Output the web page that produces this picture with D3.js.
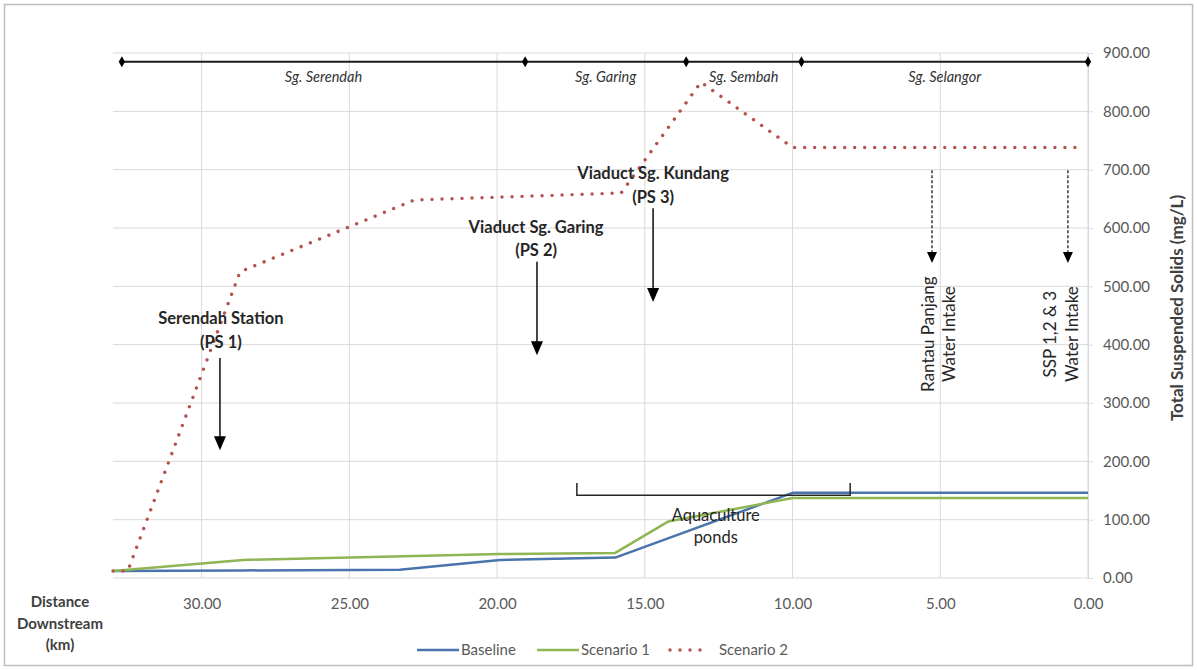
<!DOCTYPE html>
<html>
<head>
<meta charset="utf-8">
<script src="https://cdn.jsdelivr.net/npm/d3@7"></script>
<style>
  html, body { margin: 0; padding: 0; background: #ffffff; }
  svg { display: block; font-family: Lato, "Open Sans", sans-serif; }
</style>
</head>
<body>
<script>
// Distance downstream (km) tick values and TSS (mg/L) tick values
const distTicks = [30, 25, 20, 15, 10, 5, 0];
const tssTicks = [0, 100, 200, 300, 400, 500, 600, 700, 800, 900];

// Series: distance downstream (km) and total suspended solids (mg/L)
const baselineKm  = [33, 28.6, 23.3, 19.9, 16.0, 10.0, 0];
const baselineTss = [12, 13, 14, 31, 35, 146, 146];
const scenario1Km  = [33, 28.6, 19.9, 16.0, 14.2, 10.0, 0];
const scenario1Tss = [12, 31, 41, 43, 97, 137, 137];
const scenario2Km  = [33, 32.5, 28.7, 22.8, 15.8, 13.1, 10.0, 0.3];
const scenario2Tss = [12, 12, 525, 648, 660, 850, 738, 738];

// River reaches along the route (boundaries in km)
const reachKm = [32.7, 19.05, 13.6, 9.7, 0];
const reachNames = ["Sg. Serendah", "Sg. Garing", "Sg. Sembah", "Sg. Selangor"];
const reachTss = 885;

const seriesNames = ["Baseline", "Scenario 1", "Scenario 2"];

const W = 1197, H = 670;
const svg = d3.select("body").append("svg").attr("width", W).attr("height", H);

svg.append("rect").attr("x", 0).attr("y", 0).attr("width", W).attr("height", H).attr("fill", "#fff");
svg.append("rect").attr("x", 4.5).attr("y", 4.5).attr("width", 1188).attr("height", 661)
  .attr("fill", "none").attr("stroke", "#bdbdbd").attr("stroke-width", 1.5);

const x = d3.scaleLinear().domain([33, 0]).range([113, 1088]);
const y = d3.scaleLinear().domain([0, 900]).range([578, 53]);

// Gridlines
const grid = svg.append("g");
grid.selectAll("line.h").data(tssTicks).join("line")
  .attr("x1", x(33)).attr("x2", x(0))
  .attr("y1", d => y(d)).attr("y2", d => y(d))
  .attr("stroke", "#d9d9d9").attr("stroke-width", 1);
grid.selectAll("line.v").data(distTicks).join("line")
  .attr("x1", d => x(d)).attr("x2", d => x(d))
  .attr("y1", y(0)).attr("y2", y(900))
  .attr("stroke", "#d9d9d9").attr("stroke-width", 1);

// Right value axis
const yAxis = svg.append("g").attr("transform", `translate(${x(0)},0)`)
  .call(d3.axisRight(y).tickValues(tssTicks).tickFormat(d => d.toFixed(2)).tickSize(5).tickPadding(10));
yAxis.select(".domain").attr("stroke", "#d9d9d9");
yAxis.selectAll(".tick line").attr("stroke", "#d9d9d9");
yAxis.selectAll("text").attr("fill", "#595959").style("font-size", "15px").style("font-family", "Lato, sans-serif");

// Bottom distance axis
const xAxis = svg.append("g").attr("transform", `translate(0,${y(0)})`)
  .call(d3.axisBottom(x).tickValues(distTicks).tickFormat(d => d.toFixed(2)).tickSize(0).tickPadding(20));
xAxis.select(".domain").remove();
xAxis.selectAll("text").attr("fill", "#595959").style("font-size", "15px").style("font-family", "Lato, sans-serif");

// Axis titles
const xTitle = svg.append("text").attr("text-anchor", "middle")
  .attr("fill", "#404040").style("font-size", "15px").style("font-weight", "bold");
["Distance", "Downstream", "(km)"].forEach((t, i) => {
  xTitle.append("tspan").attr("x", 60).attr("y", 607 + i * 21.5).text(t);
});
svg.append("text").attr("transform", `translate(1183,308) rotate(-90)`)
  .attr("text-anchor", "middle").attr("fill", "#404040")
  .style("font-size", "17px").style("font-weight", "bold")
  .text("Total Suspended Solids (mg/L)");

// River reach bar
const reach = svg.append("g");
reach.append("line").attr("x1", x(reachKm[0])).attr("x2", x(reachKm[reachKm.length - 1]))
  .attr("y1", y(reachTss)).attr("y2", y(reachTss)).attr("stroke", "#1a1a1a").attr("stroke-width", 2);
reach.selectAll("path.dia").data(reachKm).join("path")
  .attr("d", d3.symbol(d3.symbolDiamond, 34))
  .attr("transform", d => `translate(${x(d)},${y(reachTss)})`).attr("fill", "#000");
reach.selectAll("text").data(reachNames).join("text")
  .attr("x", (d, i) => x((reachKm[i] + reachKm[i + 1]) / 2))
  .attr("y", y(reachTss) + 20)
  .attr("text-anchor", "middle").attr("fill", "#333333")
  .style("font-size", "14.5px").style("font-style", "italic")
  .text(d => d);

// Series lines
const line = d3.line().x(d => x(d[0])).y(d => y(d[1]));
const zip = (a, b) => a.map((v, i) => [v, b[i]]);

svg.append("path").datum(zip(baselineKm, baselineTss)).attr("d", line)
  .attr("fill", "none").attr("stroke", "#4a74ad").attr("stroke-width", 2.5).attr("stroke-linejoin", "round");
svg.append("path").datum(zip(scenario1Km, scenario1Tss)).attr("d", line)
  .attr("fill", "none").attr("stroke", "#8fb555").attr("stroke-width", 2.5).attr("stroke-linejoin", "round");
svg.append("path").datum(zip(scenario2Km, scenario2Tss)).attr("d", line)
  .attr("fill", "none").attr("stroke", "#b3524e").attr("stroke-width", 3.4)
  .attr("stroke-linecap", "round").attr("stroke-dasharray", "0.01 10");

// Annotations
const ann = svg.append("g");
function arrow(km, fromTss, toTss, dashed) {
  const ax = x(km), y1 = y(fromTss), y2 = y(toTss);
  const head = dashed ? 11 : 14, hw = dashed ? 5 : 6;
  ann.append("line").attr("x1", ax).attr("x2", ax).attr("y1", y1).attr("y2", y2 - head + 1)
    .attr("stroke", "#1a1a1a").attr("stroke-width", dashed ? 1.3 : 1.6)
    .attr("stroke-dasharray", dashed ? "3 2" : null);
  ann.append("path").attr("d", `M${ax - hw},${y2 - head}L${ax + hw},${y2 - head}L${ax},${y2}Z`).attr("fill", "#000");
}
function block(km, tss, lines, opts) {
  const t = ann.append("text").attr("text-anchor", "middle").attr("fill", "#262626")
    .style("font-size", opts.size + "px").style("font-weight", opts.bold ? "bold" : "normal");
  lines.forEach((s, i) => t.append("tspan").attr("x", x(km)).attr("y", y(tss) + 6 + i * opts.lh).text(s));
}

block(29.35, 446, ["Serendah Station", "(PS 1)"], { size: 16.5, bold: true, lh: 24 });
arrow(29.38, 377, 219, false);

block(18.68, 602, ["Viaduct Sg. Garing", "(PS 2)"], { size: 16.5, bold: true, lh: 23 });
arrow(18.65, 542, 382, false);

block(14.72, 694, ["Viaduct Sg. Kundang", "(PS 3)"], { size: 16.5, bold: true, lh: 24 });
arrow(14.72, 634, 473, false);

block(12.6, 108, ["Aquaculture", "ponds"], { size: 16.5, bold: false, lh: 22 });

// Aquaculture ponds extent bracket
ann.append("path")
  .attr("d", `M${x(17.3)},${y(163)}V${y(142)}H${x(8.05)}V${y(163)}`)
  .attr("fill", "none").attr("stroke", "#262626").attr("stroke-width", 1.5);

// Water intakes
function intake(arrowKm, textKm, lines) {
  arrow(arrowKm, 699, 540, true);
  const g = ann.append("g").attr("transform", `translate(${x(textKm)},${y(418)}) rotate(-90)`);
  const t = g.append("text").attr("text-anchor", "middle").attr("fill", "#262626").style("font-size", "17px");
  lines.forEach((s, i) => t.append("tspan").attr("x", 0).attr("y", i * 21.5).text(s));
}
intake(5.28, 5.22, ["Rantau Panjang", "Water Intake"]);
intake(0.68, 1.08, ["SSP 1,2 & 3", "Water Intake"]);

// Legend
const legend = svg.append("g").style("font-size", "15px");
const legendX = [417, 537, 668];
const legendStyles = [
  { stroke: "#4a74ad", w: 2.5, dash: null, cap: "butt" },
  { stroke: "#8fb555", w: 2.5, dash: null, cap: "butt" },
  { stroke: "#b3524e", w: 3.4, dash: "0.01 10", cap: "round" }
];
seriesNames.forEach((name, i) => {
  const s = legendStyles[i];
  legend.append("line").attr("x1", legendX[i] + (i === 2 ? 2 : 0)).attr("x2", legendX[i] + (i === 2 ? 34 : 42))
    .attr("y1", 650).attr("y2", 650).attr("stroke", s.stroke).attr("stroke-width", s.w)
    .attr("stroke-dasharray", s.dash).attr("stroke-linecap", s.cap);
  legend.append("text").attr("x", legendX[i] + (i === 2 ? 51 : 44)).attr("y", 655)
    .attr("fill", "#595959").text(name);
});
</script>
</body>
</html>
